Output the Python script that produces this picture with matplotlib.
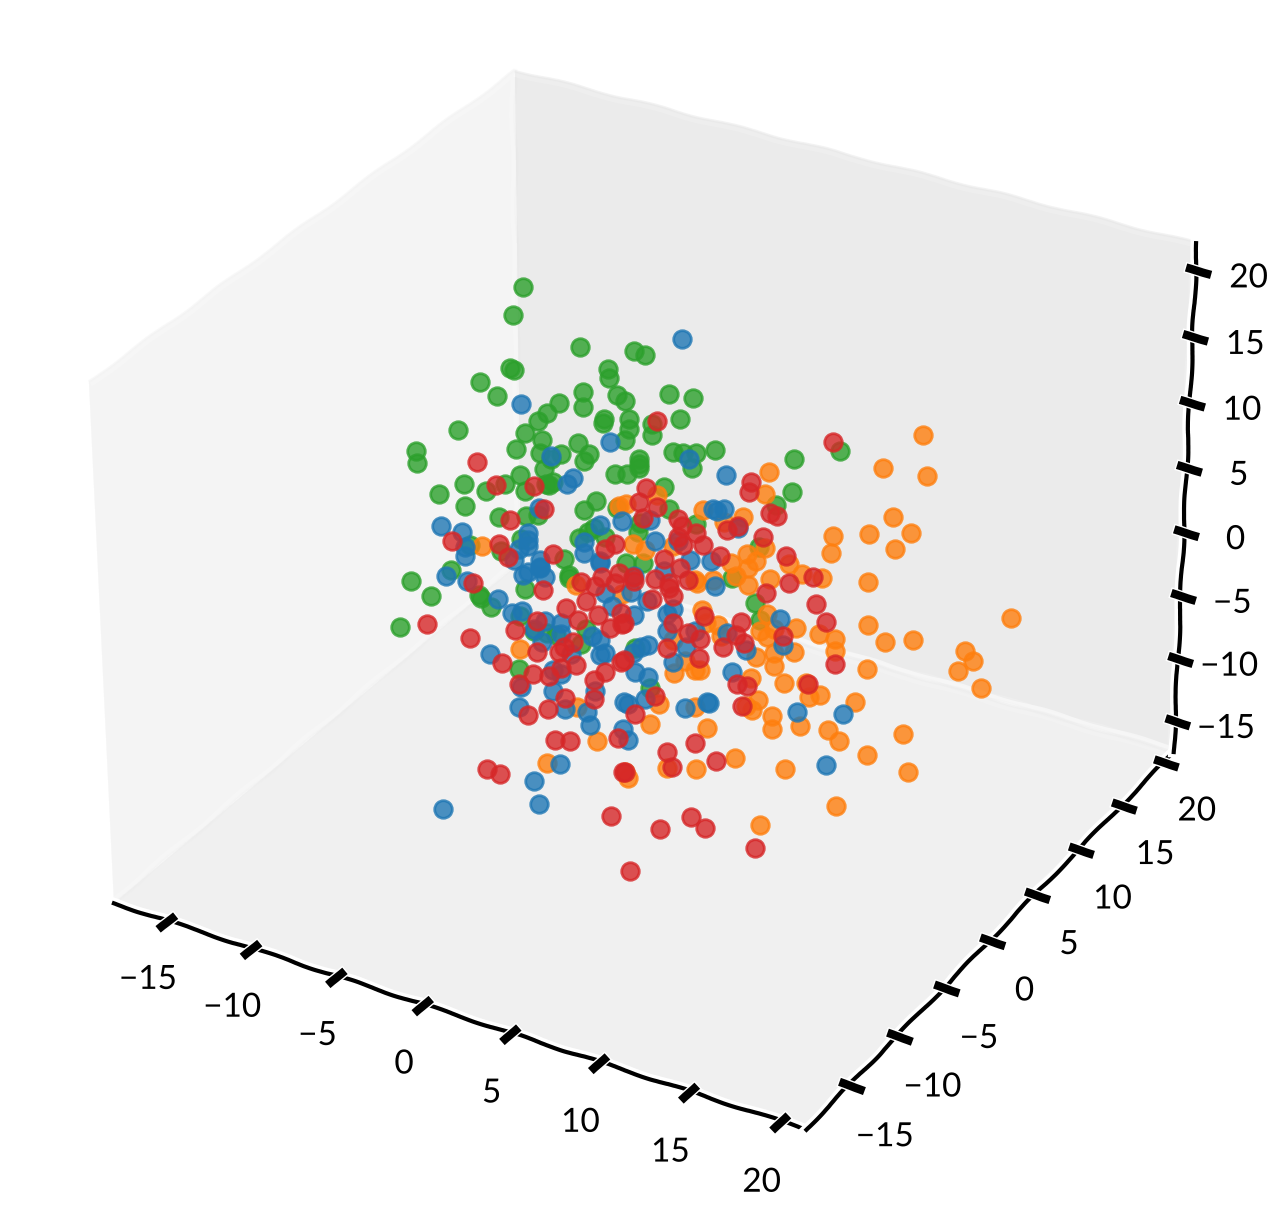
import matplotlib
matplotlib.use('Agg')
import matplotlib.pyplot as plt

# depth along y cannot be read from a single projected view, so every point
# sits on the y = 0 plane and only x and z are estimated from the picture
depth = 0.0

green_x = [-5.4,-6.0,-2.2,-6.2,-6.0,-8.0,-7.0,-0.6,-0.5,-2.0,-2.0,-3.4,-0.1,-4.1,-4.6,-0.8,-0.9,-9.3,-11.8,-11.8,-5.4,-4.4,-2.3,-1.7,-2.0,-5.9,-3.3,-4.5,-3.9,-0.2,-4.3,-9.0,-10.5,-9.0,-7.7,-6.6,-5.7,-5.4,-3.8,-4.2,-4.0,-2.0,-1.3,-7.0,-5.4,-4.7,-0.1,-8.7,-1.8,-2.3,-1.4,-5.7,-6.9,-3.2,-0.8,-9.9,-2.9,0.9,1.5,2.9,4.2,3.5,0.4,0.6,0.6,1.9,1.9,0.4,3.1,3.7,4.4,4.2,5.5,1.2,1.2,1.2,0.5,2.6,9.9,9.8,12.4,8.9,2.9,4.4,1.2,1.1,0.4,1.4,8.0,6.5,-12.3,-11.1,-13.0,-8.2,-8.1,-7.5,-5.5,-2.9,-5.8,-5.0,-4.2,-1.9,-2.2,-5.9,-3.7,7.8,0.9,1.8,8.1]
green_z = [21.9,19.6,18.6,15.6,15.5,13.9,13.2,17.5,16.9,15.3,14.2,14.0,15.8,13.0,12.2,13.7,13.4,9.8,7.3,6.4,11.0,10.8,11.4,10.8,10.1,9.6,10.2,9.8,9.6,9.8,8.7,5.8,4.5,4.1,5.7,6.7,7.7,6.6,7.9,7.6,7.6,6.4,7.4,4.0,4.7,5.0,7.3,1.2,4.8,4.2,5.3,2.8,1.4,2.2,4.8,-1.2,1.1,19.4,19.3,16.9,17.1,15.3,15.5,14.2,13.5,14.3,13.5,12.6,12.7,12.8,13.1,11.9,13.7,11.5,11.1,10.8,10.1,9.9,14.7,12.2,16.2,10.9,8.3,7.8,6.6,5.9,3.3,3.7,7.4,4.5,-3.0,-3.7,-6.9,-2.5,-2.7,-3.2,-1.0,0.9,-3.2,-4.1,-3.9,-2.7,-4.0,-7.4,-3.9,3.1,-3.1,-5.8,1.9]

orange_x = [8.5,8.3,7.1,4.8,2.2,0.4,0.0,12.1,12.0,8.3,7.3,7.8,7.4,6.4,9.7,10.4,11.5,8.6,6.7,7.4,5.4,4.4,0.8,1.5,3.1,6.0,16.9,14.8,17.2,15.4,14.1,16.4,15.5,14.1,21.9,16.6,15.1,14.1,11.4,12.3,12.3,14.1,19.5,19.9,19.1,20.4,13.5,16.2,14.2,16.5,12.5,8.2,9.6,12.0,4.8,4.5,5.7,5.0,5.9,3.2,4.7,4.4,3.8,3.1,8.5,8.1,10.1,8.5,8.9,10.0,8.9,8.9,7.9,9.5,7.6,10.7,10.9,11.5,8.0,7.3,7.7,8.8,8.8,10.4,12.6,4.4,2.3,1.8,5.1,6.7,4.5,2.8,0.3,0.5,-5.8,-2.5,-1.3,-4.3,-2.5,0.2,-8.0]
orange_z = [13.2,11.5,9.3,9.0,9.1,7.8,7.5,9.8,8.5,7.4,6.6,6.3,5.6,5.6,6.8,6.3,6.4,5.2,4.7,4.3,3.9,3.5,4.9,4.7,5.6,8.5,19.0,15.8,16.1,12.4,10.7,11.6,10.1,7.1,7.4,3.7,3.0,3.9,2.1,2.1,1.2,0.5,4.0,3.4,2.4,1.6,-2.2,-3.6,-6.0,-6.4,-10.7,-14.0,-9.0,-5.0,1.4,3.3,0.6,0.5,-0.2,-4.1,-3.3,-3.4,-2.9,-1.6,2.5,1.1,2.1,0.8,1.5,0.2,-0.3,-1.3,-1.0,-2.4,-2.7,-1.9,-2.9,-2.5,-4.3,-5.0,-5.2,-5.2,-6.2,-5.3,-5.6,-6.3,-6.9,-8.6,-7.6,-9.3,-11.1,-11.7,-13.0,-13.4,-5.8,-9.0,-11.2,-14.2,0.5,0.8,1.4]

blue_x = [-5.6,-3.9,-2.6,-3.0,-0.5,-4.6,-10.4,-9.2,-9.0,-9.0,-5.3,-5.3,-5.3,-5.8,-6.1,-4.6,-4.6,-5.3,-2.0,-2.0,-1.1,0.2,-1.1,3.6,4.0,6.1,5.4,5.6,6.0,6.8,1.8,2.1,4.1,5.3,2.6,0.9,5.5,3.4,-10.2,-8.9,-7.1,-5.6,-4.6,-4.3,-6.3,-5.7,-4.3,-3.4,-3.4,-5.0,-4.5,-2.8,-7.6,-3.4,-3.9,-5.8,-3.9,-1.4,-5.9,-3.2,-1.9,-1.7,-3.5,-5.1,-4.8,-1.1,-1.1,-1.6,-0.8,-0.4,-0.8,-1.1,0.2,0.5,0.3,0.7,1.6,2.8,3.1,0.9,2.8,4.4,3.9,1.7,1.3,0.8,3.1,6.2,7.3,9.2,9.4,6.5,0.9,1.7,1.5,0.5,3.8,5.2,5.1,10.2,12.8,11.9,-10.6]
blue_z = [13.1,9.8,8.6,8.0,12.1,5.6,2.0,2.0,0.9,0.2,3.4,2.9,2.4,2.0,1.0,1.6,1.1,0.4,4.0,3.1,5.6,6.4,2.9,21.2,12.5,12.1,9.3,9.2,9.5,8.4,7.1,5.6,4.9,5.3,3.5,2.5,3.5,6.1,-1.8,-1.7,-2.4,0.1,1.0,0.4,-3.2,-2.8,-3.0,-2.8,-3.7,-3.9,-4.7,-5.0,-6.9,-6.8,-6.7,-8.8,-8.3,-7.3,-10.4,-9.5,-9.2,-10.1,-14.0,-16.0,-17.7,-3.2,-4.4,-3.1,-4.1,-0.3,0.5,2.7,-9.7,-10.4,-7.5,1.2,0.8,0.3,0.8,-0.5,-1.0,-0.4,-1.8,-2.5,-2.8,-3.5,-3.3,0.2,-0.7,2.4,0.5,-2.7,-4.9,-5.0,-6.8,-7.6,-6.6,-5.6,-5.6,-4.3,-3.4,-7.7,-20.5]

red_x = [-8.2,-7.1,-4.9,-4.3,-6.3,-9.8,-7.0,-6.5,-3.8,-0.8,-0.2,2.2,12.0,7.5,7.4,1.6,1.2,2.2,1.4,3.4,3.6,4.4,3.4,3.7,4.8,5.8,6.2,6.8,8.6,9.0,8.2,9.5,11.0,9.7,2.6,3.5,4.0,2.1,0.8,0.0,2.9,-8.6,-4.4,-2.2,-1.4,-1.0,-0.2,-1.9,-3.1,-2.4,-4.8,-6.1,-11.4,-8.8,-1.2,-0.5,0.1,0.2,-2.7,-3.2,-3.5,-4.8,-6.9,-5.1,-4.1,-3.4,-2.5,-1.5,-0.8,0.1,0.3,-5.9,-3.2,-1.5,-4.2,-5.4,-3.8,-2.9,-0.1,-7.9,-7.1,0.2,0.3,0.3,1.9,0.9,2.9,3.1,3.1,4.9,4.0,4.7,2.8,4.6,7.0,6.7,7.2,6.0,8.4,11.2,11.8,9.4,12.3,6.8,7.4,10.8,7.1,2.1,0.9,4.4,2.8,3.1,5.6,-0.5,2.4,4.2,5.0,7.9,0.6]
red_z = [7.8,6.4,7.2,5.6,4.0,1.1,1.9,1.1,2.4,3.9,4.5,14.7,16.7,12.1,11.3,9.4,8.2,8.2,7.1,7.8,7.3,7.1,6.4,5.9,6.3,5.9,8.0,8.5,10.2,10.1,8.2,7.3,6.3,5.3,4.4,4.1,3.4,2.7,2.4,2.4,2.7,-1.7,-0.6,0.8,0.8,1.7,1.5,-0.5,-1.5,-2.2,-3.2,-4.4,-6.0,-6.1,-1.3,-2.1,-0.7,-1.5,-4.0,-4.6,-5.1,-5.6,-7.3,-7.5,-7.2,-6.3,-5.7,-6.5,-5.6,-4.5,-4.2,-8.6,-8.6,-8.0,-9.9,-10.8,-12.2,-11.9,-10.5,-16.2,-16.2,-13.1,-13.0,-1.4,1.1,2.1,2.3,1.8,-0.3,1.0,-0.7,-0.9,-2.3,-2.4,1.3,0.2,-0.2,-1.0,4.1,4.3,3.2,1.2,0.2,-3.5,-3.4,-1.9,-5.1,-6.3,-8.2,-9.1,-10.4,-11.5,-10.0,-16.9,-16.7,-15.0,-15.5,-15.9,-20.8]

x_ticks = [-15, -10, -5, 0, 5, 10, 15, 20]
y_ticks = [-15, -10, -5, 0, 5, 10, 15, 20]
z_ticks = [-15, -10, -5, 0, 5, 10, 15, 20]

plt.xkcd()
plt.rcParams['font.family'] = ['Lato', 'DejaVu Sans']
plt.rcParams['axes.unicode_minus'] = True

fig = plt.figure(figsize=(6.43, 6.13), dpi=200)
ax = fig.add_axes([0.0133, 0.0154, 0.964, 1.005], projection='3d', computed_zorder=False)

for xs, zs, color in [(green_x, green_z, 'tab:green'),
                      (orange_x, orange_z, 'tab:orange'),
                      (blue_x, blue_z, 'tab:blue'),
                      (red_x, red_z, 'tab:red')]:
    ys = [depth] * len(xs)
    ax.scatter(xs, ys, zs, color=color, s=40, linewidths=1.0, alpha=0.8, depthshade=False)

ax.set_xlim(-18.3, 21.3)
ax.set_ylim(-19.4, 21.2)
ax.set_zlim(-17.5, 22.0)
ax.set_xticks(x_ticks)
ax.set_yticks(y_ticks)
ax.set_zticks(z_ticks)
ax.tick_params(labelsize=12)

fig.savefig('out.png', dpi=200)
